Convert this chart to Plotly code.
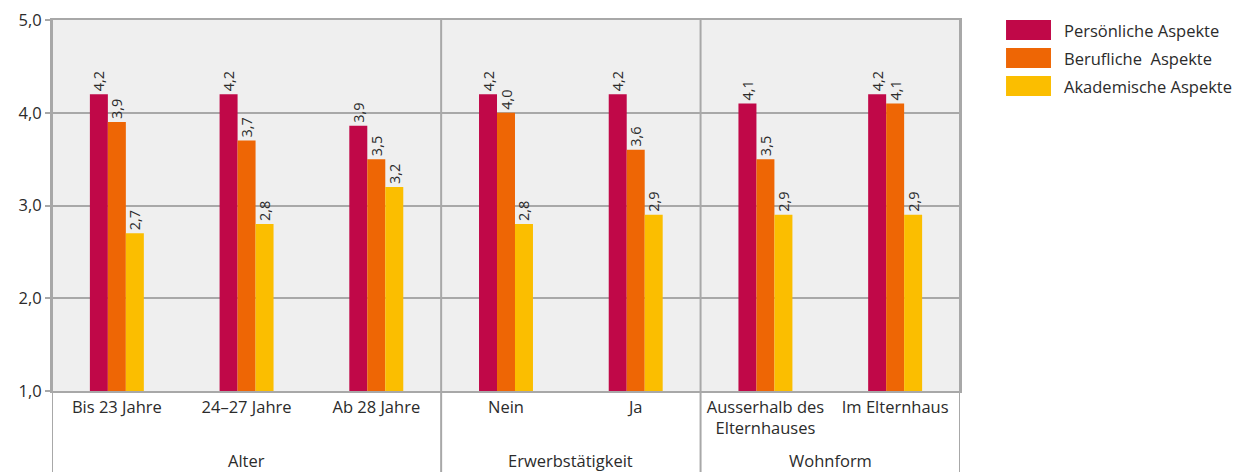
import plotly.graph_objects as go

categories = ["Bis 23 Jahre", "24–27 Jahre", "Ab 28 Jahre", "Nein", "Ja",
              "Ausserhalb des<br>Elternhauses", "Im Elternhaus"]
groups = ["Alter", "Erwerbstätigkeit", "Wohnform"]
group_centers = [1, 3.5, 5.5]
group_separators = [2.5, 4.5]

series_names = ["Persönliche Aspekte", "Berufliche&nbsp; Aspekte", "Akademische Aspekte"]
persoenlich = [4.2, 4.2, 3.86, 4.2, 4.2, 4.1, 4.2]
beruflich = [3.9, 3.7, 3.5, 4.0, 3.6, 3.5, 4.1]
akademisch = [2.7, 2.8, 3.2, 2.8, 2.9, 2.9, 2.9]
series_values = [persoenlich, beruflich, akademisch]
colors = ["#C00848", "#EE6605", "#FBBE00"]

FONT = "Open Sans"
FS = 16.5
GRID = "#a8a8a8"
BG = "#efefef"
TXT = "#2b2b2b"

x = list(range(len(categories)))

fig = go.Figure()
for name, vals, col in zip(series_names, series_values, colors):
    fig.add_trace(go.Bar(
        x=x, y=vals, name=name, marker=dict(color=col, line=dict(width=0)),
        text=[f"{v:.1f}".replace(".", ",") for v in vals],
        textposition="outside", textangle=-90, constraintext="none",
        textfont=dict(family=FONT, size=14.5, color=TXT),
        cliponaxis=False, showlegend=False,
    ))

shapes = []
for sx in group_separators + [-0.5, 6.5]:
    shapes.append(dict(type="line", xref="x", yref="paper", x0=sx, x1=sx,
                       y0=-0.23, y1=1, line=dict(color=GRID, width=2), layer="above"))

leg_y = [(1.0, 0.946), (0.9245, 0.8706), (0.849, 0.795)]
annotations = []
for (y1, y0), col, name in zip(leg_y, colors, series_names):
    shapes.append(dict(type="rect", xref="paper", yref="paper", x0=1.0507, x1=1.1002,
                       y0=y0, y1=y1, fillcolor=col, line=dict(width=0)))
    annotations.append(dict(xref="paper", yref="paper", x=1.1123, y=(y0 + y1) / 2,
                            text=name, showarrow=False, xanchor="left", yanchor="middle",
                            font=dict(family=FONT, size=FS, color=TXT)))

for gx, g in zip(group_centers, groups):
    annotations.append(dict(xref="x", yref="paper", x=gx, y=0, yshift=-69,
                            text=g, showarrow=False, xanchor="center", yanchor="middle",
                            font=dict(family=FONT, size=FS, color=TXT)))

fig.update_layout(
    width=1242, height=472,
    margin=dict(l=52, r=282, t=20, b=81, autoexpand=False),
    paper_bgcolor="white", plot_bgcolor=BG,
    barmode="group", bargap=0.584, bargroupgap=0,
    separators=",.",
    font=dict(family=FONT, size=FS, color=TXT),
    shapes=shapes, annotations=annotations,
    showlegend=False,
)
fig.update_xaxes(
    range=[-0.5, 6.5], tickmode="array", tickvals=x, ticktext=categories,
    showgrid=False, showline=True, mirror=True, linecolor=GRID, linewidth=2,
    ticks="", tickfont=dict(family=FONT, size=FS, color=TXT), zeroline=False,
    automargin=False,
)
fig.update_yaxes(
    range=[1, 5], tickvals=[1, 2, 3, 4, 5], tickformat=".1f",
    showgrid=True, gridcolor=GRID, gridwidth=1.5,
    showline=True, mirror=True, linecolor=GRID, linewidth=2,
    ticks="outside", ticklen=5, tickcolor=GRID, tickwidth=1.5,
    tickfont=dict(family=FONT, size=FS, color=TXT), zeroline=False,
    automargin=False,
)

fig.write_html("out.html", config={"displayModeBar": False})

with open("out.html", encoding="utf-8") as f:
    html = f.read()
html = html.replace("<head>", "<head><style>html,body{margin:0;padding:0;}</style>", 1)
with open("out.html", "w", encoding="utf-8") as f:
    f.write(html)
